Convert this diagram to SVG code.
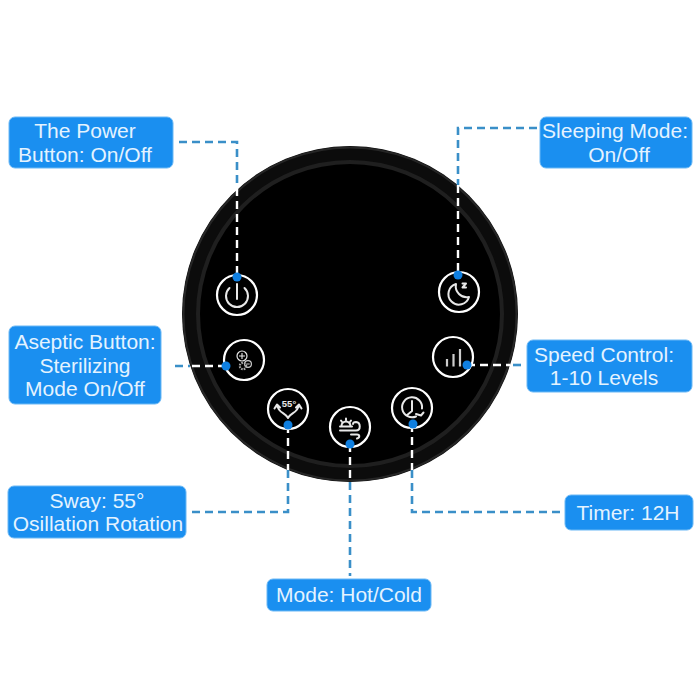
<svg xmlns="http://www.w3.org/2000/svg" width="700" height="700" viewBox="0 0 700 700">
<style>
.box{fill:#1a8ff0;stroke:#6bb8f5;stroke-width:1}
.t{font-family:"Liberation Sans",Arial,sans-serif;font-size:21px;fill:#e4f3ff;text-anchor:middle}
.b{fill:none;stroke:#3a8fc8;stroke-width:2.6;stroke-dasharray:8 5}
.w{fill:none;stroke:#fff;stroke-width:2.4;stroke-dasharray:8 5}
.r{fill:#000;stroke:#fff;stroke-width:2.2}
.i{fill:none;stroke:#e8e8e8;stroke-width:2;stroke-linecap:round;stroke-linejoin:round}
.d{fill:#0f7fe0}
</style>
<rect width="700" height="700" fill="#fff"/>
<g id="base">
<circle cx="350" cy="314" r="168" fill="#0c0c0c"/>
<circle cx="350" cy="314" r="166.500" fill="none" stroke="#262626" stroke-width="2"/>
<circle cx="350" cy="314" r="152" fill="#000" stroke="#1f1f1f" stroke-width="4"/>
</g>
<g id="connectors">
<path class="b" d="M179 142H237V188"/>
<path class="w" d="M237 188V277"/>
<path class="b" d="M537 128H458V185"/>
<path class="w" d="M458 185V275"/>
<path class="b" d="M175 366H190"/>
<path class="w" d="M226 366H190"/>
<path class="w" d="M467 365H510"/>
<path class="b" d="M513 365H523"/>
<path class="w" d="M288 425V470"/>
<path class="b" d="M288 470V512H190"/>
<path class="w" d="M350 444V482"/>
<path class="b" d="M350 482V576"/>
<path class="w" d="M412 424V470"/>
<path class="b" d="M412 470V512H561"/>
</g>
<g id="btn-power">
<circle class="r" cx="237" cy="295" r="20"/>
<path class="i" d="M229.500 288a11 11 0 1 0 15 0M237 284V299"/>
<circle class="d" cx="237" cy="277" r="4.500"/>
</g>
<g id="btn-aseptic">
<circle class="r" cx="244" cy="360" r="20"/>
<circle cx="242" cy="356" r="5" fill="none" stroke="#e8e8e8" stroke-width="1.200"/><path d="M239 356h6M242 353v6" stroke="#e8e8e8" stroke-width="1.100"/>
<circle cx="248" cy="364" r="3.400" fill="none" stroke="#ccc" stroke-width="1.200"/><path d="M246.300 364h3.400" stroke="#ccc" stroke-width="1"/>
<circle cx="243" cy="366" r="3.200" fill="none" stroke="#aaa" stroke-width="2.200" stroke-dasharray="1.600 1"/>
<circle class="d" cx="226" cy="366" r="4.500"/>
</g>
<g id="btn-sway">
<circle class="r" cx="288" cy="409" r="20"/>
<text x="289" y="407" font-family="Liberation Sans,Arial,sans-serif" font-size="9.500" font-weight="bold" fill="#e8e8e8" text-anchor="middle">55°</text>
<path class="i" d="M288 418C286 413 278 413 277 405M274.500 408.500L277 404.500L280 407.500M288 418C290 413 298 413 299 405M296 407.500L299 404.500L301.500 408.500"/>
<circle class="d" cx="288" cy="425" r="4.500"/>
</g>
<g id="btn-mode">
<circle class="r" cx="350" cy="427" r="20"/>
<path class="i" d="M341.500 426a4.500 4.500 0 0 1 9 0M340 426.500h12M346 418.500v1.500M341 420.500l1 1.500M351 420.500l-1 1.500" stroke-width="1.300"/>
<path class="i" d="M340 430.500h16c5 0 5-8 0-8.500c-2 0-3 1-3 2M351 434.500h6c3 0 3 3.500 0 4" stroke-width="1.400"/>
<circle class="d" cx="350" cy="444" r="4.500"/>
</g>
<g id="btn-timer">
<circle class="r" cx="412" cy="408" r="20"/>
<path class="i" d="M416 416.500a10 10 0 1 1 6-8M412 401v10l-5.500 4.500M416 414l5 1.500 2.500-3" stroke-width="1.400"/>
<circle class="d" cx="413" cy="424" r="4.500"/>
</g>
<g id="btn-speed">
<circle class="r" cx="453" cy="357" r="20"/>
<path d="M447 359V366.500M453.500 354V366.500M460 349V366.500" stroke="#ccc" stroke-width="2.200" fill="none"/>
<circle class="d" cx="467" cy="365" r="4.500"/>
</g>
<g id="btn-sleep">
<circle class="r" cx="459" cy="292" r="20"/>
<path class="i" d="M456 284a10.500 10.500 0 1 0 13 13a11 11 0 0 1-13-13z"/>
<path class="i" d="M462.500 283.500h3.500l-3.500 4h3.500" stroke-width="1.200"/>
<circle class="d" cx="458" cy="275" r="4.500"/>
</g>
<g id="label-power"><rect class="box" x="9" y="117" width="164" height="51" rx="6"/><text class="t" x="85" y="138">The Power</text><text class="t" x="85" y="162">Button: On/Off</text></g>
<g id="label-sleep"><rect class="box" x="540" y="117" width="152" height="51" rx="6"/><text class="t" x="615" y="138">Sleeping Mode:</text><text class="t" x="619" y="162">On/Off</text></g>
<g id="label-aseptic"><rect class="box" x="9" y="326" width="152" height="78" rx="6"/><text class="t" x="85" y="349">Aseptic Button:</text><text class="t" x="85" y="373">Sterilizing</text><text class="t" x="85" y="396">Mode On/Off</text></g>
<g id="label-speed"><rect class="box" x="527" y="340" width="165" height="52" rx="6"/><text class="t" x="604" y="362">Speed Control:</text><text class="t" x="604" y="385">1-10 Levels</text></g>
<g id="label-sway"><rect class="box" x="8" y="486" width="178" height="52" rx="6"/><text class="t" x="97" y="508">Sway: 55°</text><text class="t" x="98" y="531">Osillation Rotation</text></g>
<g id="label-timer"><rect class="box" x="565" y="495" width="128" height="35" rx="6"/><text class="t" x="628" y="520">Timer: 12H</text></g>
<g id="label-mode"><rect class="box" x="267" y="579" width="164" height="32" rx="6"/><text class="t" x="349" y="602">Mode: Hot/Cold</text></g>
</svg>
